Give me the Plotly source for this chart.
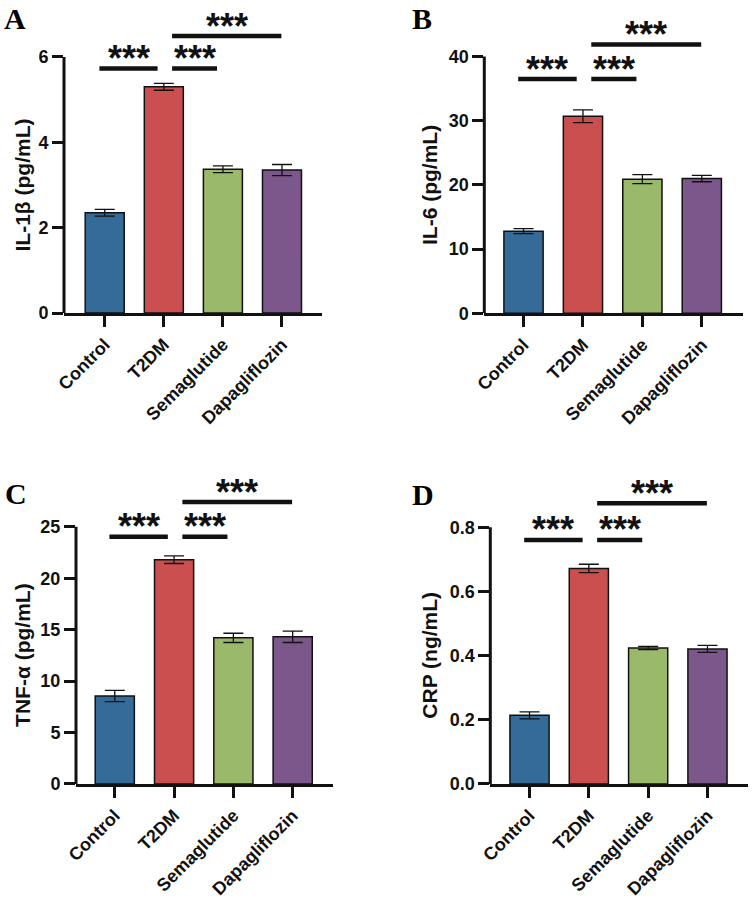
import plotly.graph_objects as go

# ---------------- data ----------------
categories = ["Control", "T2DM", "Semaglutide", "Dapagliflozin"]

il1b_mean = [2.35, 5.30, 3.37, 3.35]
il1b_sem = [0.08, 0.08, 0.08, 0.13]
il6_mean = [12.8, 30.7, 20.9, 21.0]
il6_sem = [0.4, 1.0, 0.7, 0.5]
tnf_mean = [8.55, 21.8, 14.2, 14.3]
tnf_sem = [0.55, 0.37, 0.45, 0.55]
crp_mean = [0.214, 0.672, 0.424, 0.421]
crp_sem = [0.011, 0.013, 0.005, 0.011]

y_titles = ["IL-1β (pg/mL)", "IL-6 (pg/mL)", "TNF-α (pg/mL)", "CRP (ng/mL)"]
panel_letters = ["A", "B", "C", "D"]

il1b_ticks = [0, 2, 4, 6]
il6_ticks = [0, 10, 20, 30, 40]
tnf_ticks = [0, 5, 10, 15, 20, 25]
crp_ticks = [0.0, 0.2, 0.4, 0.6, 0.8]

# significance comparisons (group indices) and bracket heights (data units)
sig_pairs = [(0, 1), (1, 2), (1, 3)]
sig_label = "***"
il1b_sig_y = [5.73, 5.73, 6.49]
il6_sig_y = [36.5, 36.5, 41.9]
tnf_sig_y = [24.03, 24.03, 27.4]
crp_sig_y = [0.7606, 0.7606, 0.875]

# ---------------- style / layout ----------------
bar_colors = ["#356B99", "#CB4F4F", "#9BB96B", "#7C578C"]
SANS = "Liberation Sans"
SERIF = "Liberation Serif"
INK = "#111111"

# bracket end offsets from group centres (category units)
bracket_offsets = [(-0.09, -0.105), (0.14, -0.10), (0.14, -0.01)]

panels = [
    dict(mean=il1b_mean, sem=il1b_sem, ticks=il1b_ticks, sig=il1b_sig_y, fmt="",
         xdom=[64 / 752, 322 / 752], xr=[-0.689, 3.677], yr=[0, 7.0], ydom=[0.6522, 0.9841],
         title_px=(22.5, 185), letter_px=(2, 0), letter_anchor="top"),
    dict(mean=il6_mean, sem=il6_sem, ticks=il6_ticks, sig=il6_sig_y, fmt="",
         xdom=[484.3 / 752, 742.7 / 752], xr=[-0.66, 3.688], yr=[0, 46], ydom=[0.6519, 0.9799],
         title_px=(430, 185), letter_px=(410, 0), letter_anchor="top"),
    dict(mean=tnf_mean, sem=tnf_sem, ticks=tnf_ticks, sig=tnf_sig_y, fmt="",
         xdom=[76 / 752, 333.3 / 752], xr=[-0.654, 3.685], yr=[0, 30], ydom=[0.1289, 0.4719],
         title_px=(22.5, 655.4), letter_px=(3, 493.5), letter_anchor="middle"),
    dict(mean=crp_mean, sem=crp_sem, ticks=crp_ticks, sig=crp_sig_y, fmt=".1f",
         xdom=[490.3 / 752, 747.7 / 752], xr=[-0.661, 3.678], yr=[0, 0.96], ydom=[0.1289, 0.4711],
         title_px=(430, 655.7), letter_px=(410, 494), letter_anchor="middle"),
]

W, H = 752, 900
fig = go.Figure()
shapes = []
annotations = []

for i, p in enumerate(panels):
    n = "" if i == 0 else str(i + 1)
    xref, yref = "x" + n, "y" + n
    fig.add_trace(go.Bar(
        x=categories, y=p["mean"], xaxis=xref, yaxis=yref,
        marker=dict(color=bar_colors, line=dict(color=INK, width=1.5)),
        error_y=dict(type="data", array=p["sem"], visible=True, color=INK,
                     thickness=1.3, width=10),
        showlegend=False, hoverinfo="skip",
    ))
    fig.layout["xaxis" + n] = dict(
        domain=p["xdom"], anchor=yref, range=p["xr"], type="category", automargin=False,
        categoryorder="array", categoryarray=categories,
        showline=True, linewidth=3, linecolor=INK, showgrid=False, zeroline=False,
        ticks="outside", ticklen=11, tickwidth=3, tickcolor=INK, tickangle=-45,
        tickfont=dict(family=SANS, size=18, color=INK, weight="bold"),
    )
    fig.layout["yaxis" + n] = dict(
        domain=p["ydom"], anchor=xref, range=p["yr"], automargin=False,
        showline=False, showgrid=False, zeroline=False,
        tickmode="array", tickvals=p["ticks"], tickformat=p["fmt"],
        ticks="outside", ticklen=11, tickwidth=3, tickcolor=INK,
        tickfont=dict(family=SANS, size=18, color=INK, weight="bold"),
    )
    # y axis line ending at the top tick
    shapes.append(dict(type="line", xref=xref + " domain", yref=yref,
                       x0=0, x1=0, y0=0, y1=max(p["ticks"]),
                       line=dict(color=INK, width=3)))
    # significance brackets
    for (a, b), (oa, ob), yv in zip(sig_pairs, bracket_offsets, p["sig"]):
        x0, x1 = a + oa, b + ob
        shapes.append(dict(type="line", xref=xref, yref=yref, x0=x0, x1=x1,
                           y0=yv, y1=yv, line=dict(color=INK, width=4.5)))
        annotations.append(dict(xref=xref, yref=yref, x=(x0 + x1) / 2, y=yv,
                                text=sig_label, showarrow=False, xanchor="center",
                                yanchor="middle", yshift=10,
                                font=dict(family=SANS, size=36, color=INK, weight="bold")))
    # y axis title
    tx, ty = p["title_px"]
    annotations.append(dict(xref="paper", yref="paper", x=tx / W, y=1 - ty / H,
                            text=y_titles[i], textangle=-90, showarrow=False,
                            xanchor="center", yanchor="middle",
                            font=dict(family=SANS, size=21, color=INK, weight="bold")))
    # panel letter
    lx, ly = p["letter_px"]
    annotations.append(dict(xref="paper", yref="paper", x=lx / W, y=1 - ly / H,
                            text=panel_letters[i], showarrow=False,
                            xanchor="left", yanchor=p["letter_anchor"],
                            font=dict(family=SERIF, size=30, color="#000000", weight="bold")))

fig.update_layout(
    width=W, height=H, margin=dict(l=0, r=0, t=0, b=0, autoexpand=False),
    paper_bgcolor="white", plot_bgcolor="white",
    bargap=0.34, shapes=shapes, annotations=annotations,
)

fig.write_html("out.html", config={"displayModeBar": False},
               post_script="document.body.style.margin='0';document.body.style.overflow='hidden';")
